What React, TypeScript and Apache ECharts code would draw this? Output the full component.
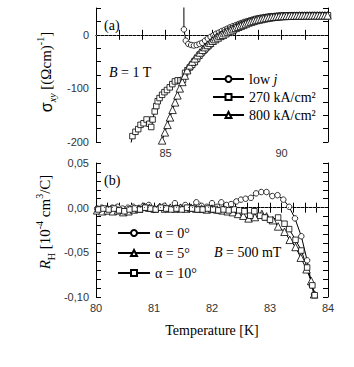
import React, { useEffect, useRef } from 'react';
import * as echarts from 'echarts';

// ---------- Panel (a): sigma_xy vs T ----------
const lowJ: [number, number][] = [
  [85.78, 220], [85.79, 10], [85.87, -11], [85.98, -17], [86.1, -19], [86.22, -20], [86.34, -19], [86.46, -17],
  [86.58, -15], [86.7, -11], [86.82, -7], [86.94, -4], [87.06, -1], [87.18, 2], [87.3, 4], [87.42, 7], [87.54, 9],
  [87.66, 11.5], [87.78, 14], [87.9, 16], [88.02, 18], [88.14, 20], [88.26, 22], [88.38, 24], [88.5, 25.5],
  [88.62, 27], [88.74, 28.5], [88.86, 30], [88.98, 31], [89.1, 32], [89.22, 33], [89.34, 33.7], [89.46, 34.3],
  [89.58, 34.8], [89.7, 35.2], [89.82, 35.5], [89.94, 35.8], [90.06, 36], [90.18, 36.2], [90.3, 36.3], [90.42, 36.4],
  [90.54, 36.5], [90.66, 36.5], [90.78, 36.6], [90.9, 36.6], [91.02, 36.6], [91.14, 36.7], [91.26, 36.7],
  [91.38, 36.7], [91.5, 36.7], [91.62, 36.7], [91.74, 36.7], [91.86, 36.7], [91.98, 36.7],
];
const j270: [number, number][] = [
  [83.45, -215], [83.57, -189], [83.7, -181], [83.82, -176], [83.92, -168], [84.05, -165], [84.18, -158], [84.3, -166],
  [84.38, -172], [84.44, -158], [84.53, -143], [84.6, -133], [84.66, -124], [84.74, -118], [84.85, -112], [84.95, -107],
  [85.06, -103], [85.18, -98], [85.29, -92], [85.4, -87], [85.52, -85], [85.64, -85], [85.75, -84], [85.84, -71],
  [85.94, -66], [86.04, -61], [86.15, -56], [86.26, -51], [86.36, -45], [86.46, -39], [86.57, -33], [86.68, -28],
  [86.79, -23], [86.9, -18], [87.01, -13], [87.12, -9], [87.23, -5], [87.34, -2], [87.45, 1], [87.57, 4], [87.69, 7],
  [87.81, 9.5], [87.93, 12], [88.05, 14.5], [88.17, 17], [88.29, 19], [88.41, 21], [88.53, 23], [88.65, 25],
  [88.77, 26.5], [88.89, 28], [89.01, 29.5], [89.13, 30.5], [89.25, 31.5], [89.37, 32.5], [89.49, 33.3], [89.61, 34],
  [89.73, 34.5], [89.85, 35], [89.97, 35.3], [90.09, 35.5], [90.21, 35.7], [90.33, 35.9], [90.45, 36], [90.57, 36.1],
  [90.69, 36.2], [90.81, 36.2], [90.93, 36.3], [91.05, 36.3], [91.17, 36.3], [91.29, 36.4], [91.41, 36.4],
  [91.53, 36.4], [91.65, 36.4], [91.77, 36.4], [91.89, 36.4], [92.0, 36.4],
];
const j800: [number, number][] = [
  [84.75, -215], [84.85, -197], [84.97, -182], [85.08, -168], [85.19, -154], [85.3, -140], [85.41, -126], [85.51, -113],
  [85.61, -100], [85.72, -88], [85.83, -76], [85.93, -66], [86.04, -57], [86.15, -50], [86.26, -44], [86.37, -38],
  [86.48, -33], [86.59, -28], [86.7, -23], [86.81, -19], [86.92, -15], [87.03, -11], [87.14, -8], [87.25, -5],
  [87.36, -2], [87.47, 0], [87.58, 3], [87.69, 5.5], [87.8, 8], [87.91, 10.5], [88.02, 13], [88.13, 15], [88.24, 17],
  [88.35, 19], [88.46, 21], [88.57, 23], [88.68, 24.5], [88.79, 26], [88.9, 27.5], [89.01, 28.5], [89.12, 29.5],
  [89.23, 30.5], [89.34, 31.5], [89.45, 32.3], [89.56, 33], [89.67, 33.7], [89.78, 34.2], [89.89, 34.6], [90.0, 35],
  [90.11, 35.2], [90.22, 35.4], [90.33, 35.6], [90.44, 35.7], [90.55, 35.8], [90.66, 35.9], [90.77, 36], [90.88, 36],
  [90.99, 36], [91.1, 36.1], [91.21, 36.1], [91.32, 36.1], [91.43, 36.2], [91.54, 36.2], [91.65, 36.2], [91.76, 36.2],
  [91.87, 36.2], [91.98, 36.2],
];

// ---------- Panel (b): R_H vs T ----------
const alpha0: [number, number][] = [
  [80.02, -0.001], [80.1, 0.0], [80.19, -0.001], [80.28, 0.0], [80.37, 0.001], [80.46, -0.001], [80.55, 0.0],
  [80.64, 0.001], [80.73, -0.001], [80.82, 0.002], [80.91, 0.003], [81.0, -0.002], [81.09, 0.0], [81.18, 0.002],
  [81.27, -0.001], [81.36, 0.005], [81.45, 0.0], [81.54, 0.003], [81.63, 0.0], [81.73, 0.006], [81.82, 0.002],
  [81.91, 0.001], [82.0, 0.005], [82.09, 0.001], [82.16, 0.006], [82.25, 0.003], [82.33, 0.004], [82.42, 0.007],
  [82.5, 0.009], [82.58, 0.01], [82.67, 0.011], [82.76, 0.016], [82.85, 0.0175], [82.94, 0.0175], [83.04, 0.013],
  [83.13, 0.014], [83.23, 0.009], [83.33, 0.001], [83.43, -0.012], [83.54, -0.032], [83.64, -0.059], [83.72, -0.087],
  [83.76, -0.097],
];
const alpha5: [number, number][] = [
  [80.02, -0.003], [80.11, -0.004], [80.2, -0.003], [80.29, -0.004], [80.38, -0.003], [80.47, -0.005], [80.56, -0.004],
  [80.65, -0.002], [80.74, -0.001], [80.83, 0.001], [80.92, 0.0], [81.01, -0.001], [81.1, 0.001], [81.19, -0.001],
  [81.28, 0.0], [81.37, -0.001], [81.46, 0.0], [81.55, -0.001], [81.64, 0.0], [81.73, -0.001], [81.82, -0.001],
  [81.91, -0.002], [82.0, -0.001], [82.09, -0.002], [82.18, -0.003], [82.27, -0.004], [82.36, -0.005], [82.45, -0.007],
  [82.54, -0.009], [82.63, -0.012], [82.74, -0.0105], [82.86, -0.007], [82.94, -0.0098], [83.05, -0.014],
  [83.14, -0.021], [83.25, -0.027], [83.34, -0.036], [83.44, -0.044], [83.53, -0.056], [83.63, -0.069],
  [83.71, -0.082], [83.76, -0.097],
];
const alpha10: [number, number][] = [
  [80.04, -0.002], [80.13, -0.001], [80.22, -0.002], [80.31, -0.001], [80.4, -0.003], [80.49, -0.004], [80.58, -0.002],
  [80.67, -0.001], [80.76, -0.002], [80.85, 0.0], [80.94, -0.001], [81.03, -0.002], [81.12, 0.0], [81.21, -0.001],
  [81.3, -0.002], [81.39, -0.001], [81.48, -0.002], [81.57, 0.0], [81.66, -0.001], [81.75, -0.002], [81.84, -0.002],
  [81.93, -0.001], [82.02, -0.002], [82.11, -0.003], [82.2, -0.002], [82.29, -0.003], [82.38, -0.002], [82.47, -0.003],
  [82.56, -0.004], [82.66, -0.009], [82.73, -0.004], [82.83, -0.009], [82.91, -0.011], [83.0, -0.0135],
  [83.14, -0.011], [83.25, -0.018], [83.33, -0.024], [83.44, -0.036], [83.54, -0.048], [83.64, -0.067],
  [83.73, -0.087], [83.77, -0.098],
];

const namesA = ['low j', '270 kA/cm²', '800 kA/cm²'];
const namesB = ['α = 0°', 'α = 5°', 'α = 10°'];

const topXLabels = [85, 90];
const topYLabels = [-200, -100, 0];
const botXLabels = [80, 81, 82, 83, 84];
const botYLabels = [-0.1, -0.05, 0, 0.05];

const SERIF = "'Liberation Serif', 'Times New Roman', serif";
const SANS = "'Liberation Sans', Arial, sans-serif";

const has = (arr: number[], v: number) => arr.some((a) => Math.abs(a - v) < 1e-6);

export default function App() {
  const ref = useRef<HTMLDivElement>(null);
  useEffect(() => {
    if (!ref.current) return;
    const chart = echarts.init(ref.current, undefined, { renderer: 'svg' });

    const tick = { inside: true, length: 5, lineStyle: { color: '#000', width: 1 } };
    const line = { show: true, lineStyle: { color: '#000', width: 1 } };
    const lab = { fontSize: 11, color: '#333', fontFamily: SANS };

    const mkSeries = (name: string, data: [number, number][], symbol: string, xi: number, yi: number, mark?: boolean) => {
      const s: any = {
        name,
        type: 'line',
        data,
        xAxisIndex: xi,
        yAxisIndex: yi,
        symbol,
        symbolSize: symbol === 'triangle' ? 7.5 : 5.5,
        showAllSymbol: true,
        clip: true,
        lineStyle: { color: '#000', width: 1 },
        itemStyle: { color: '#fff', borderColor: '#000', borderWidth: 0.8 },
        emphasis: { disabled: true },
      };
      if (mark) {
        s.markLine = {
          silent: true,
          symbol: 'none',
          label: { show: false },
          lineStyle: { color: '#666', width: 1, type: [1, 3] },
          data: [{ yAxis: 0 }],
        };
      }
      return s;
    };

    const option: any = {
      animation: false,
      grid: [
        { left: 96, top: 8, width: 232, height: 134 },
        { left: 96, top: 163, width: 232, height: 134 },
      ],
      xAxis: [
        {
          gridIndex: 0, type: 'value', min: 82, max: 92, interval: 1, position: 'bottom',
          axisLine: line, axisTick: tick, splitLine: { show: false },
          axisLabel: { ...lab, margin: 5, formatter: (v: number) => (has(topXLabels, v) ? String(v) : '') },
        },
        {
          gridIndex: 0, type: 'value', min: 82, max: 92, interval: 1, position: 'top',
          axisLine: line, axisTick: tick, splitLine: { show: false }, axisLabel: { show: false },
        },
        {
          gridIndex: 1, type: 'value', min: 80, max: 84, interval: 0.2, position: 'bottom',
          axisLine: line, axisTick: tick, splitLine: { show: false },
          axisLabel: { ...lab, margin: 5, formatter: (v: number) => (has(botXLabels, v) ? String(Math.round(v)) : '') },
          name: 'Temperature [K]', nameLocation: 'middle', nameGap: 26,
          nameTextStyle: { fontFamily: SERIF, fontSize: 14, color: '#000' },
        },
        {
          gridIndex: 1, type: 'value', min: 80, max: 84, interval: 0.2, position: 'top',
          axisLine: line, axisTick: tick, splitLine: { show: false }, axisLabel: { show: false },
        },
      ],
      yAxis: [
        {
          gridIndex: 0, type: 'value', min: -200, max: 50, interval: 25, position: 'left',
          axisLine: line, axisTick: tick, splitLine: { show: false },
          axisLabel: { ...lab, margin: 7, formatter: (v: number) => (has(topYLabels, v) ? String(Math.round(v)) : '') },
        },
        {
          gridIndex: 0, type: 'value', min: -200, max: 50, interval: 25, position: 'right',
          axisLine: line, axisTick: tick, splitLine: { show: false }, axisLabel: { show: false },
        },
        {
          gridIndex: 1, type: 'value', min: -0.1, max: 0.05, interval: 0.01, position: 'left',
          axisLine: line, axisTick: tick, splitLine: { show: false },
          axisLabel: {
            ...lab, margin: 7,
            formatter: (v: number) => (has(botYLabels, v) ? (Math.abs(v) < 1e-9 ? 0 : v).toFixed(2).replace('.', ',') : ''),
          },
        },
        {
          gridIndex: 1, type: 'value', min: -0.1, max: 0.05, interval: 0.01, position: 'right',
          axisLine: line, axisTick: tick, splitLine: { show: false }, axisLabel: { show: false },
        },
      ],
      legend: [
        {
          data: namesA, orient: 'vertical', left: 207, top: 65, itemWidth: 31, itemHeight: 7.5, itemGap: 0,
          selectedMode: false,
          textStyle: {
            fontFamily: SERIF, fontSize: 14, color: '#000', lineHeight: 18,
            rich: { i: { fontFamily: SERIF, fontSize: 14, fontStyle: 'italic', color: '#000' } },
          },
          formatter: (n: string) => (n === 'low j' ? 'low {i|j}' : n),
        },
        {
          data: namesB, orient: 'vertical', left: 112, top: 218, itemWidth: 32, itemHeight: 7.5, itemGap: 0,
          selectedMode: false,
          textStyle: { fontFamily: SERIF, fontSize: 14, color: '#000', lineHeight: 20 },
        },
      ],
      series: [
        mkSeries(namesA[0], lowJ, 'circle', 0, 0, true),
        mkSeries(namesA[1], j270, 'rect', 0, 0),
        mkSeries(namesA[2], j800, 'triangle', 0, 0),
        mkSeries(namesB[0], alpha0, 'circle', 2, 2, true),
        mkSeries(namesB[1], alpha5, 'triangle', 2, 2),
        mkSeries(namesB[2], alpha10, 'rect', 2, 2),
      ],
      graphic: [
        { type: 'text', x: 104, y: 25, style: { text: '(a)', fontFamily: SERIF, fontSize: 14, fill: '#000', verticalAlign: 'middle', textVerticalAlign: 'middle' } },
        { type: 'text', x: 104, y: 180, style: { text: '(b)', fontFamily: SERIF, fontSize: 14, fill: '#000', verticalAlign: 'middle', textVerticalAlign: 'middle' } },
        {
          type: 'text', x: 109, y: 72,
          style: {
            text: '{i|B} = 1 T', fontFamily: SERIF, fontSize: 14, fill: '#000', verticalAlign: 'middle', textVerticalAlign: 'middle',
            rich: { i: { fontFamily: SERIF, fontSize: 14, fontStyle: 'italic', fill: '#000' } },
          },
        },
        {
          type: 'text', x: 214, y: 252,
          style: {
            text: '{i|B} = 500 mT', fontFamily: SERIF, fontSize: 14, fill: '#000', verticalAlign: 'middle', textVerticalAlign: 'middle',
            rich: { i: { fontFamily: SERIF, fontSize: 14, fontStyle: 'italic', fill: '#000' } },
          },
        },
        {
          type: 'text', x: 46, y: 72, rotation: Math.PI / 2,
          style: {
            text: '{g|σ}{sub|xy}{t| [(Ωcm)}{sup|-1}{t|]}',
            fontFamily: SERIF, fontSize: 15, fill: '#000',
            align: 'center', verticalAlign: 'middle', textAlign: 'center', textVerticalAlign: 'middle',
            rich: {
              g: { fontFamily: SANS, fontSize: 16, fill: '#000', lineHeight: 22, verticalAlign: 'middle' },
              sub: { fontFamily: SERIF, fontSize: 10, fontStyle: 'italic', fill: '#000', lineHeight: 22, verticalAlign: 'bottom' },
              t: { fontFamily: SERIF, fontSize: 15, fill: '#000', lineHeight: 22, verticalAlign: 'middle' },
              sup: { fontFamily: SERIF, fontSize: 10, fill: '#000', lineHeight: 22, verticalAlign: 'top' },
            },
          },
        },
        {
          type: 'text', x: 45, y: 222, rotation: Math.PI / 2,
          style: {
            text: '{i|R}{sub|H}{t| [10}{sup|-4}{t| cm}{sup|3}{t|/C]}',
            fontFamily: SERIF, fontSize: 15, fill: '#000',
            align: 'center', verticalAlign: 'middle', textAlign: 'center', textVerticalAlign: 'middle',
            rich: {
              i: { fontFamily: SERIF, fontSize: 15, fontStyle: 'italic', fill: '#000', lineHeight: 22, verticalAlign: 'middle' },
              sub: { fontFamily: SERIF, fontSize: 10, fill: '#000', lineHeight: 22, verticalAlign: 'bottom' },
              t: { fontFamily: SERIF, fontSize: 15, fill: '#000', lineHeight: 22, verticalAlign: 'middle' },
              sup: { fontFamily: SERIF, fontSize: 10, fill: '#000', lineHeight: 22, verticalAlign: 'top' },
            },
          },
        },
      ],
    };
    chart.setOption(option);
    return () => chart.dispose();
  }, []);
  return (
    <div
      ref={ref}
      style={{ position: 'absolute', left: 0, top: 0, width: 354, height: 367, background: '#fff' }}
    />
  );
}
